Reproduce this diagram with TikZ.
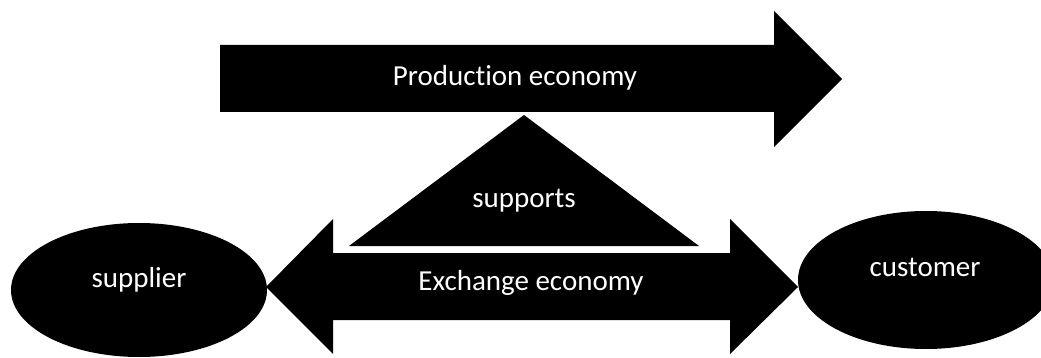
\documentclass[tikz,border=0pt]{standalone}
\usepackage{fontspec}
\setmainfont{Carlito}[Ligatures={NoCommon}]
\usetikzlibrary{shapes.geometric}
\begin{document}
\begin{tikzpicture}[x=1pt,y=-1pt,
  shape fill/.style={fill=black,draw=none},
  blob/.style={ellipse,fill=black,draw=none,inner sep=0pt},
  label text/.style={text=white,inner sep=0pt,font=\fontsize{29}{34}\selectfont}]
\useasboundingbox (0,0) rectangle (1041,358);
\clip (0,0) rectangle (1041,358);
% production arrow
\fill[shape fill] (220,45) -- (774,45) -- (774,11) -- (842,79) -- (774,147) -- (774,112) -- (220,112) -- cycle;
% triangle
\fill[shape fill] (524,115) -- (699,246) -- (349,246) -- cycle;
% exchange double arrow
\fill[shape fill] (333,253) -- (730,253) -- (730,219) -- (798,287) -- (730,354) -- (730,320) -- (333,320) -- (333,354) -- (266,287) -- (333,219) -- cycle;
% ellipses
\node[blob,minimum width=256pt,minimum height=134pt] (sup) at (139,290) {};
\node[blob,minimum width=256pt,minimum height=138pt] (cus) at (926,280) {};
% texts
\node[label text] (prod) at (515,78) {Production economy};
\node[label text] (supp) at (524,201) {supports};
\node[label text] (exch) at (531,283) {Exchange economy};
\node[label text] (supt) at (139,280) {supplier};
\node[label text] (cust) at (925,267) {customer};
\end{tikzpicture}
\end{document}
